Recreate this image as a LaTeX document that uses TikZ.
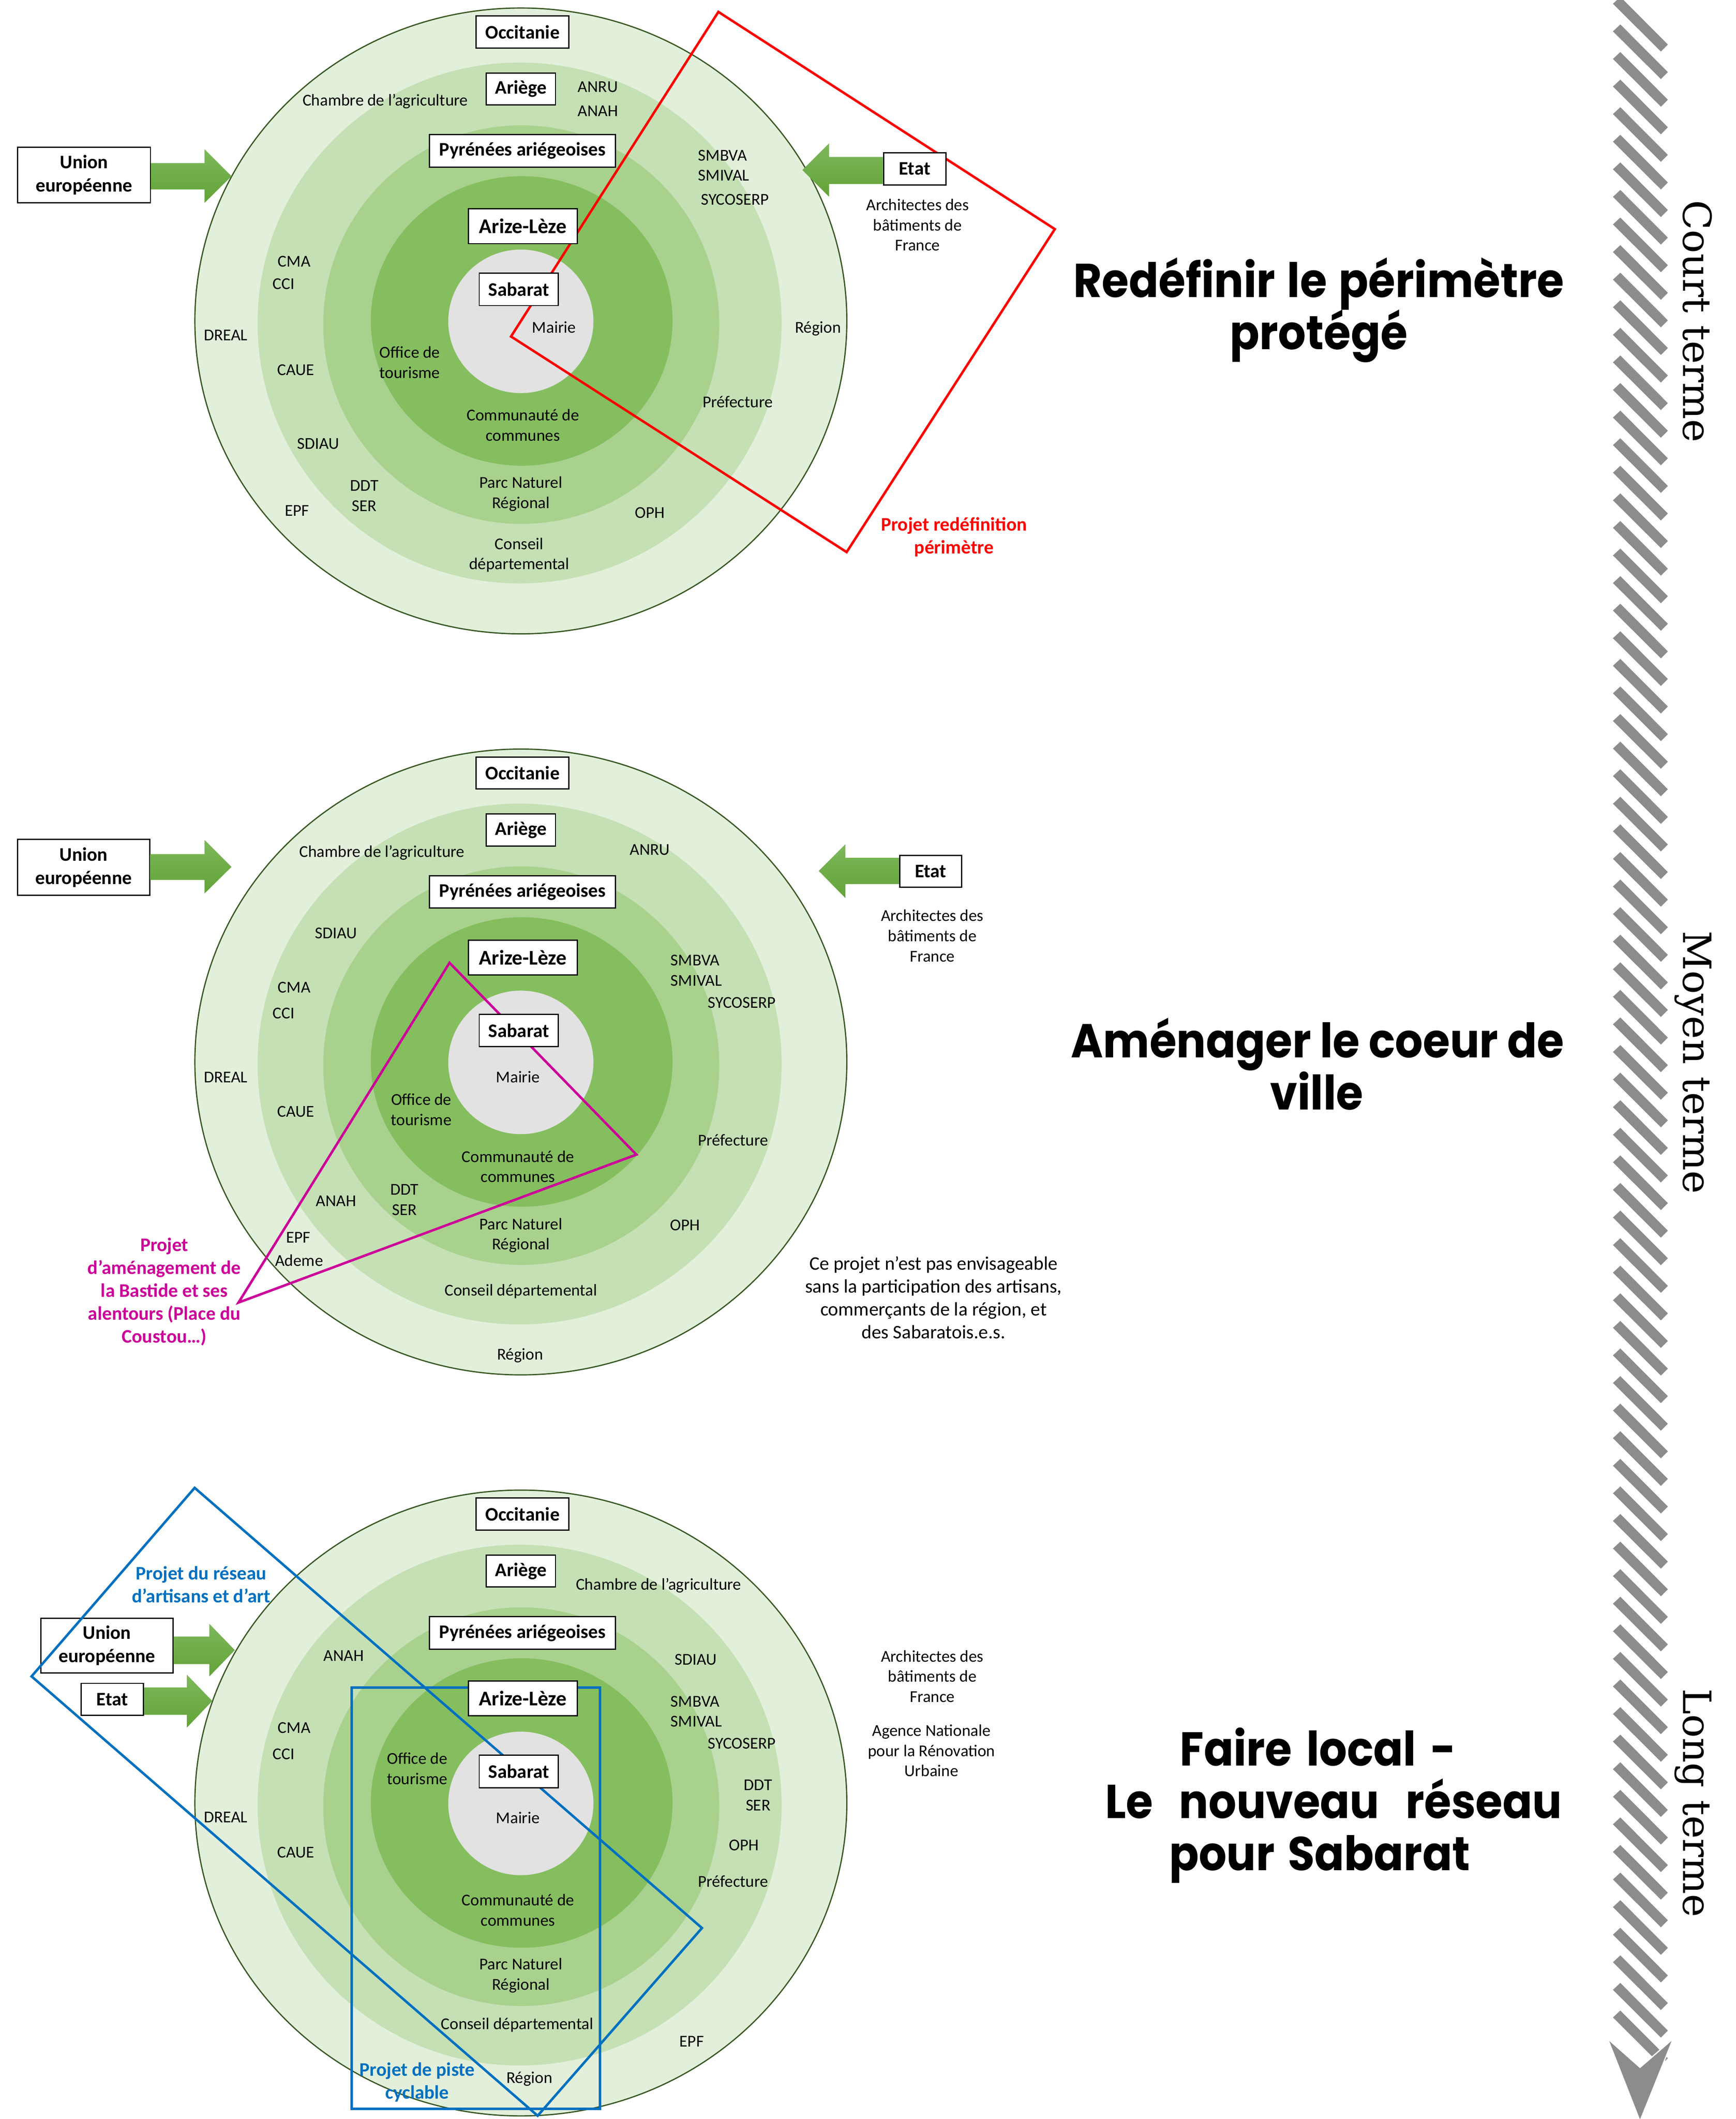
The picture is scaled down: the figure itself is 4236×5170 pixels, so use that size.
\documentclass[tikz,border=0pt]{standalone}
\usepackage{fontspec}
\setmainfont{Carlito}
\newfontfamily\titlefont{Poppins}[FakeStretch=0.92]
\newfontfamily\termfont{DejaVu Serif}
\definecolor{ringA}{HTML}{E2EFDA}
\definecolor{ringB}{HTML}{C5E0B4}
\definecolor{ringC}{HTML}{A9D18E}
\definecolor{ringD}{HTML}{85BE5F}
\definecolor{ringE}{HTML}{E2E2E2}
\definecolor{ringLine}{HTML}{385723}
\definecolor{arrTop}{HTML}{7DB85A}
\definecolor{arrBot}{HTML}{62A337}
\definecolor{stripeGray}{HTML}{8C8C8C}
\definecolor{projRed}{HTML}{FF0000}
\definecolor{projMag}{HTML}{CC0099}
\definecolor{projBlue}{HTML}{0070C0}
\tikzset{
  lbl/.style={font=\fontsize{11.5}{14}\selectfont, align=center, inner sep=0pt},
  note/.style={font=\fontsize{13.3}{15.9}\selectfont, align=center, inner sep=0pt},
  bx/.style={draw=black, line width=0.03cm, fill=white, font=\bfseries\fontsize{13.3}{16.2}\selectfont, align=center, inner sep=0pt},
  proj/.style={font=\bfseries\fontsize{13.3}{15.9}\selectfont, align=center, inner sep=0pt},
  ttl/.style={font=\titlefont\bfseries\fontsize{33}{36}\selectfont, anchor=base, inner sep=0pt},
  term/.style={font=\termfont\fontsize{27}{30}\selectfont, rotate=-90, anchor=base, inner sep=0pt},
  garrow/.style={top color=arrTop, bottom color=arrBot, draw=none},
  projline/.style={line width=0.06cm},
}
\newcommand{\drawrings}[1]{%
  \begin{scope}[shift={(0,#1)}]
    \fill[ringA, draw=ringLine, line width=0.03cm] (1271,783) ellipse [x radius=7.95cm, y radius=7.63cm];
    \fill[ringB] (1268,788) ellipse [x radius=6.39cm, y radius=6.35cm];
    \fill[ringC] (1272,792) ellipse [x radius=4.83cm, y radius=4.86cm];
    \fill[ringD] (1273,783) ellipse [x radius=3.68cm, y radius=3.53cm];
    \fill[ringE] (1271,784) ellipse [x radius=1.77cm, y radius=1.75cm];
  \end{scope}}
\newcommand{\drawboxes}[3]{%
  \begin{scope}[shift={(0,#2)}]
    \node[bx, minimum width=2.26cm, minimum height=0.78cm] (#1occ) at (1275,78) {Occitanie};
    \node[bx, minimum width=1.69cm, minimum height=0.78cm] (#1ari) at (1271,217) {Ariège};
    \node[bx, minimum width=4.53cm, minimum height=0.79cm] (#1pyr) at (1275,368) {Pyrénées ariégeoises};
    \node[bx, font=\bfseries\fontsize{14.5}{17}\selectfont, minimum width=2.66cm, minimum height=0.85cm] (#1arz) at (1276,#3) {Arize-Lèze};
    \node[bx, minimum width=1.93cm, minimum height=0.79cm] (#1sab) at (1266,706) {Sabarat};
  \end{scope}}
\begin{document}
\begin{tikzpicture}[x=0.01cm,y=-0.01cm]
\useasboundingbox (0,0) rectangle (4236,5170);
\fill[white] (0,0) rectangle (4236,5170);

% ---------- time arrow on the right ----------
\foreach \k in {-1,...,72}{
  \fill[stripeGray, shift={(0,{67.3*\k})}] (3936,76.5) -- (3954,59.7) -- (4070,176) -- (4053,193) -- cycle;
}
\fill[stripeGray, draw=white, line width=0.03cm] (3923,4974) -- (4002,5044) -- (4083,4974) -- (4002,5175) -- cycle;
\node[term] (tcourt) at (4108,784) {Court terme};
\node[term] (tmoyen) at (4108,2592) {Moyen terme};
\node[term] (tlong) at (4108,4399) {Long terme};

% ---------- rings ----------
\drawrings{0}
\drawrings{1808}
\drawrings{3616}

% bottom: Union / Etat (under the blue project outline)
\node[bx, minimum width=3.22cm, minimum height=1.33cm] (cue) at (261,4015) {Union\\européenne};
\node[bx, minimum width=1.52cm, minimum height=0.78cm] (cetat) at (274,4146) {Etat};
\shade[garrow] (cue.east |- 0,3993) -- (511,3993) -- (511,3962) -- (573,4026) -- (511,4090) -- (511,4060) -- (cue.east |- 0,4060) -- cycle;
\shade[garrow] (cetat.east |- 0,4117) -- (456,4117) -- (456,4086) -- (518,4150) -- (456,4215) -- (456,4184) -- (cetat.east |- 0,4184) -- cycle;

% ---------- project shapes ----------
\draw[projRed, projline] (1753,29) -- (2574,559) -- (2066,1347) -- (1247,821) -- cycle;
\draw[projMag, projline] (1097,2349) -- (1553,2817) -- (582,3178) -- cycle;
\draw[projBlue, projline] (475,3630) -- (1713,4704) -- (1312,5162) -- (77,4090) -- cycle;
\draw[projBlue, projline] (858,4117) rectangle (1464,5145);

% ---------- top diagram labels ----------
\node[lbl] (acha) at (940,247) {Chambre de l’agriculture};
\node[lbl] (aanru) at (1459,212) {ANRU};
\node[lbl] (aanah) at (1459,271) {ANAH};
\node[lbl, anchor=west] (asmb) at (1703,379) {SMBVA};
\node[lbl, anchor=west] (asmi) at (1703,428) {SMIVAL};
\node[lbl, anchor=west] (asyc) at (1710,487) {SYCOSERP};
\node[lbl] (aabf) at (2239,549) {Architectes des\\bâtiments de\\France};
\node[lbl] (acma) at (718,638) {CMA};
\node[lbl] (acci) at (692,693) {CCI};
\node[lbl] (adreal) at (551,818) {DREAL};
\node[lbl] (acaue) at (722,903) {CAUE};
\node[lbl] (asdiau) at (777,1083) {SDIAU};
\node[lbl] (addt) at (889,1210) {DDT\\SER};
\node[lbl] (aepf) at (725,1246) {EPF};
\node[lbl] (aoff) at (1000,884) {Office de\\tourisme};
\node[lbl] (amai) at (1352,798) {Mairie};
\node[lbl] (acc) at (1276,1037) {Communauté de\\communes};
\node[lbl] (apnr) at (1271,1205) {Parc Naturel\\Régional};
\node[lbl] (aoph) at (1586,1251) {OPH};
\node[lbl] (acd) at (1267,1354) {Conseil\\départemental};
\node[lbl] (areg) at (1996,802) {Région};
\node[lbl] (apref) at (1800,980) {Préfecture};
\node[proj, text=projRed] (aproj) at (2328,1310) {Projet redéfinition\\périmètre};

% ---------- middle diagram labels ----------
\node[lbl] (bcha) at (932,2080) {Chambre de l’agriculture};
\node[lbl] (banru) at (1586,2073) {ANRU};
\node[lbl] (bsdiau) at (820,2277) {SDIAU};
\node[lbl, anchor=west] (bsmb) at (1636,2343) {SMBVA};
\node[lbl, anchor=west] (bsmi) at (1636,2393) {SMIVAL};
\node[lbl, anchor=west] (bsyc) at (1727,2446) {SYCOSERP};
\node[lbl] (bcma) at (718,2409) {CMA};
\node[lbl] (bcci) at (692,2472) {CCI};
\node[lbl] (bdreal) at (551,2628) {DREAL};
\node[lbl] (bmai) at (1264,2628) {Mairie};
\node[lbl] (boff) at (1028,2707) {Office de\\tourisme};
\node[lbl] (bcaue) at (722,2712) {CAUE};
\node[lbl] (bpref) at (1789,2782) {Préfecture};
\node[lbl] (bcc) at (1264,2846) {Communauté de\\communes};
\node[lbl] (banah) at (820,2930) {ANAH};
\node[lbl] (bddt) at (987,2927) {DDT\\SER};
\node[lbl] (bpnr) at (1271,3014) {Parc Naturel\\Régional};
\node[lbl] (boph) at (1672,2989) {OPH};
\node[lbl] (bepf) at (728,3019) {EPF};
\node[lbl] (badem) at (730,3075) {Ademe};
\node[lbl] (bcd) at (1271,3151) {Conseil départemental};
\node[lbl] (breg) at (1269,3307) {Région};
\node[lbl] (babf) at (2275,2283) {Architectes des\\bâtiments de\\France};
\node[proj, text=projMag] (bproj) at (401,3152) {Projet\\d’aménagement de\\la Bastide et ses\\alentours (Place du\\Coustou…)};
\node[note] (bnote) at (2278,3166) {Ce projet n’est pas envisageable\\sans la participation des artisans,\\commerçants de la région, et\\des Sabaratois.e.s.};

% ---------- bottom diagram labels ----------
\node[lbl] (ccha) at (1607,3868) {Chambre de l’agriculture};
\node[lbl] (canah) at (839,4040) {ANAH};
\node[lbl] (csdiau) at (1698,4049) {SDIAU};
\node[lbl, anchor=west] (csmb) at (1636,4151) {SMBVA};
\node[lbl, anchor=west] (csmi) at (1636,4200) {SMIVAL};
\node[lbl, anchor=west] (csyc) at (1727,4254) {SYCOSERP};
\node[lbl] (cddt) at (1850,4380) {DDT\\SER};
\node[lbl] (coph) at (1815,4502) {OPH};
\node[lbl] (cpref) at (1789,4590) {Préfecture};
\node[lbl] (ccma) at (718,4215) {CMA};
\node[lbl] (ccci) at (692,4280) {CCI};
\node[lbl] (cdreal) at (551,4434) {DREAL};
\node[lbl] (ccaue) at (722,4519) {CAUE};
\node[lbl] (coff) at (1018,4315) {Office de\\tourisme};
\node[lbl] (cmai) at (1264,4435) {Mairie};
\node[lbl] (ccc) at (1264,4660) {Communauté de\\communes};
\node[lbl] (cpnr) at (1271,4820) {Parc Naturel\\Régional};
\node[lbl] (ccd) at (1262,4940) {Conseil départemental};
\node[lbl] (cepf) at (1688,4981) {EPF};
\node[lbl] (creg) at (1292,5072) {Région};
\node[lbl] (cabf) at (2275,4090) {Architectes des\\bâtiments de\\France};
\node[lbl] (canru) at (2273,4271) {Agence Nationale\\pour la Rénovation\\Urbaine};
\node[proj, text=projBlue] (cproj1) at (491,3866) {Projet du réseau\\d’artisans et d’art};
\node[proj, text=projBlue] (cproj2) at (1018,5080) {Projet de piste\\cyclable};

% ---------- boxes ----------
\drawboxes{a}{0}{552}
\drawboxes{b}{1808}{528}
\drawboxes{c}{3616}{528}

% top: Union / Etat
\node[bx, minimum width=3.24cm, minimum height=1.36cm] (aue) at (205,427) {Union\\européenne};
\node[bx, minimum width=1.52cm, minimum height=0.79cm] (aetat) at (2232,412) {Etat};
\shade[garrow] (aue.east |- 0,398) -- (499,398) -- (499,364) -- (565,430) -- (499,495) -- (499,462) -- (aue.east |- 0,462) -- cycle;
\shade[garrow] (aetat.west |- 0,383) -- (2023,383) -- (2023,350) -- (1958,415) -- (2023,480) -- (2023,449) -- (aetat.west |- 0,449) -- cycle;

% middle: Union / Etat
\node[bx, minimum width=3.22cm, minimum height=1.36cm] (bue) at (204,2116) {Union\\européenne};
\node[bx, minimum width=1.51cm, minimum height=0.77cm] (betat) at (2271,2126) {Etat};
\shade[garrow] (bue.east |- 0,2084) -- (499,2084) -- (499,2049) -- (565,2115) -- (499,2180) -- (499,2147) -- (bue.east |- 0,2147) -- cycle;
\shade[garrow] (betat.west |- 0,2093) -- (2063,2093) -- (2063,2060) -- (1998,2125) -- (2063,2191) -- (2063,2157) -- (betat.west |- 0,2157) -- cycle;

% ---------- titles ----------
\node[ttl] (t1a) at (3218,725) {\makebox[11.96cm][s]{Redéfinir le périmètre}};
\node[ttl] (t1b) at (3218,853) {protégé};
\node[ttl] (t2a) at (3215,2580) {\makebox[12.02cm][s]{Aménager le coeur de}};
\node[ttl] (t2b) at (3213,2708) {ville};
\node[ttl] (t3a) at (3216,4308) {\makebox[6.73cm][s]{Faire local -}};
\node[ttl] (t3b) at (3254,4436) {\makebox[11.14cm][s]{Le nouveau réseau}};
\node[ttl] (t3c) at (3220,4564) {\makebox[7.34cm][s]{pour Sabarat}};
\end{tikzpicture}
\end{document}
